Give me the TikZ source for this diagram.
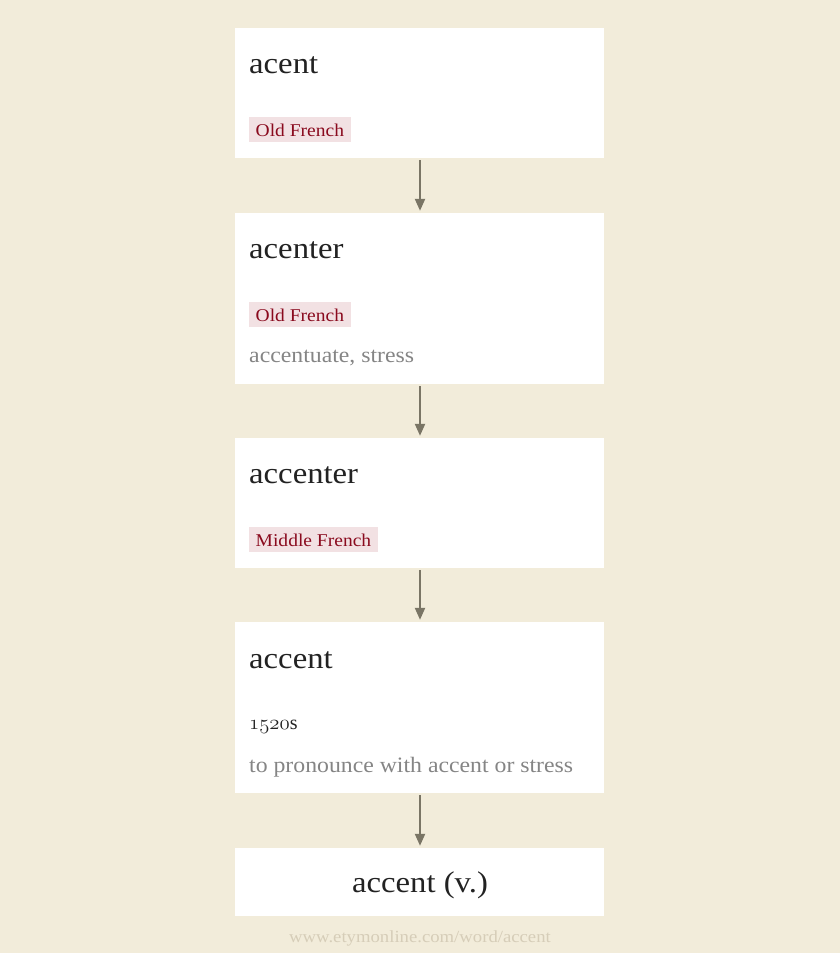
\documentclass[tikz,border=0pt]{standalone}
\usepackage{fontspec}
\setmainfont{Liberation Serif}
\newfontfamily\ttlfont[FakeStretch=1.09]{Liberation Serif}
\newfontfamily\glossfont[FakeStretch=1.08]{Liberation Serif}
\newfontfamily\tagfont[FakeStretch=1.085]{Liberation Serif}
\newfontfamily\footfont[FakeStretch=1.10]{Liberation Serif}
\usetikzlibrary{arrows.meta}
\definecolor{bgc}{HTML}{F2ECDA}
\definecolor{tagbg}{HTML}{F2E1E3}
\definecolor{tagfg}{HTML}{8A0A1E}
\definecolor{glossc}{HTML}{858585}
\definecolor{titlec}{HTML}{222222}
\definecolor{arrc}{HTML}{7A7565}
\definecolor{footc}{HTML}{D6CDB8}
\tikzset{
  wbox/.style={fill=white, draw=none},
  ttl/.style={anchor=base west, inner sep=0pt, text=titlec, font=\ttlfont\fontsize{30}{33}\selectfont},
  tag/.style={anchor=base west, fill=tagbg, text=tagfg, inner xsep=6.5pt, inner ysep=0pt, text height=19pt, text depth=6pt, font=\tagfont\fontsize{18}{20}\selectfont},
  gloss/.style={anchor=base west, inner sep=0pt, text=glossc, font=\glossfont\fontsize{22}{24}\selectfont},
  yr/.style={anchor=base west, inner sep=0pt, text=titlec, font=\fontsize{20}{24}\selectfont},
  conn/.style={draw=arrc, line width=2.2pt, -{Triangle[length=12pt,width=10pt]}},
}
\begin{document}
\begin{tikzpicture}[x=1pt,y=-1pt]
\fill[bgc] (0,0) rectangle (840,953);
\useasboundingbox (0,0) rectangle (840,953);
% boxes
\node[wbox, minimum width=369pt, minimum height=130pt, inner sep=0pt] (b1) at (419.5,93) {};
\node[wbox, minimum width=369pt, minimum height=171pt, inner sep=0pt] (b2) at (419.5,298.5) {};
\node[wbox, minimum width=369pt, minimum height=130pt, inner sep=0pt] (b3) at (419.5,503) {};
\node[wbox, minimum width=369pt, minimum height=171pt, inner sep=0pt] (b4) at (419.5,707.5) {};
\node[wbox, minimum width=369pt, minimum height=68pt, inner sep=0pt] (b5) at (419.5,882) {};
% box 1
\node[ttl] (t1) at (249,73) {acent};
\node[tag] (g1) at (249,136) {Old French};
% box 2
\node[ttl] (t2) at (249,258) {acenter};
\node[tag] (g2) at (249,321) {Old French};
\node[gloss] (d2) at (249,362) {accentuate, stress};
% box 3
\node[ttl] (t3) at (249,483) {accenter};
\node[tag] (g3) at (249,546) {Middle French};
% box 4
\node[ttl] (t4) at (249,668) {accent};
\node[yr] (y4) at (249,729) {{\usefont{OML}{cmm}{m}{it}1520}s};
\node[gloss] (d4) at (249,772) {to pronounce with accent or stress};
% box 5
\node[anchor=base, inner sep=0pt, text=titlec, font=\ttlfont\fontsize{30}{33}\selectfont] (t5) at (420,892) {accent (v.)};
% footer
\node[anchor=base, inner sep=0pt, text=footc, font=\footfont\fontsize{17}{20}\selectfont] (ft) at (420,942) {www.etymonline.com/word/accent};
% arrows
\draw[conn] ([yshift=-2pt]b1.south -| 420,0) -- ([yshift=2pt]b2.north -| 420,0);
\draw[conn] ([yshift=-2pt]b2.south -| 420,0) -- ([yshift=2pt]b3.north -| 420,0);
\draw[conn] ([yshift=-2pt]b3.south -| 420,0) -- ([yshift=2pt]b4.north -| 420,0);
\draw[conn] ([yshift=-2pt]b4.south -| 420,0) -- ([yshift=2pt]b5.north -| 420,0);
\end{tikzpicture}
\end{document}
